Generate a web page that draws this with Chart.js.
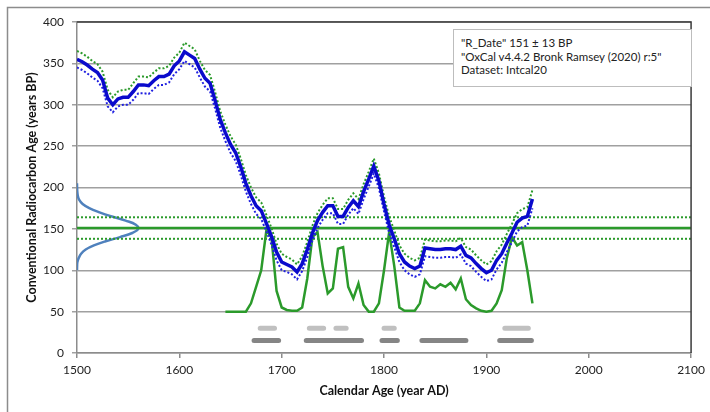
<!DOCTYPE html>
<html lang="en">
  <head>
    <meta charset="UTF-8">
    <title>Radiocarbon calibration</title>
    <script src="https://cdn.jsdelivr.net/npm/chart.js"></script>
    <style>
      body{margin: 0; background: #fff;}
      #wrap{position: relative; width: 710px; height: 412px;}
      #info{position: absolute; left: 453px; top: 29px; width: 223px; height: 44px; padding: 6px 7px;
        border: 1px solid #bdbdbd; background: #fff; color: #222;
        font: 11.5px Lato, sans-serif; line-height: 13.7px;}
    </style>
    <script>
      // calibration curve (IntCal20), 5-year steps
      const calYears = [1500,1505,1510,1515,1520,1525,1530,1535,1540,1545,1550,1555,1560,1565,1570,1575,1580,1585,1590,1595,
        1600,1605,1610,1615,1620,1625,1630,1635,1640,1645,1650,1655,1660,1665,1670,1675,1680,1685,1690,1695,
        1700,1705,1710,1715,1720,1725,1730,1735,1740,1745,1750,1755,1760,1765,1770,1775,1780,1785,1790,1795,
        1800,1805,1810,1815,1820,1825,1830,1835,1840,1845,1850,1855,1860,1865,1870,1875,1880,1885,1890,1895,
        1900,1905,1910,1915,1920,1925,1930,1935,1940,1945];
      const curveBP = [355,352,348,343,339,330,308,300,307,309,309,316,324,324,323,329,334,334,337,347,
        353,364,360,356,343,332,326,305,282,266,252,242,225,205,190,178,172,157,141,122,
        110,107,104,98,108,125,145,160,170,178,178,165,165,176,184,177,195,210,226,208,
        180,155,138,120,110,105,102,105,127,126,125,125,126,126,125,129,118,115,108,102,
        97,100,112,120,133,145,158,163,165,186];
      const curveSigma = [10,10,10,10,10,10,10,9,9,9,9,10,10,10,10,10,10,10,10,10,
        10,11,11,11,10,10,10,10,10,10,10,10,10,10,10,10,10,10,10,10,
        10,9,9,9,9,9,9,9,9,9,9,9,9,9,9,9,9,9,9,9,
        9,10,10,10,10,10,10,10,10,10,10,10,10,10,10,10,10,10,10,10,
        10,11,11,11,11,11,11,11,11,11];

      // calibrated probability (plotted on the BP scale, baseline 50)
      const probYears = [1645,1650,1655,1660,1665,1670,1675,1680,1685,1690,1695,1700,1705,1710,1715,1720,1725,1730,1735,1740,
        1745,1750,1755,1760,1765,1770,1775,1780,1785,1790,1795,1800,1805,1810,1815,1820,1825,1830,1835,1840,
        1845,1850,1855,1860,1865,1870,1875,1880,1885,1890,1895,1900,1905,1910,1915,1920,1925,1930,1935,1940,1945];
      const probValues = [50,50,50,50,50,60,80,100,148,140,75,55,52,51,51,55,90,140,146,105,
        72,78,126,128,80,66,84,58,50,50,60,100,146,105,55,51,51,51,60,88,
        80,78,83,80,85,77,90,65,58,54,51,50,51,60,76,115,140,130,134,100,60];

      // measured date
      const dateBP = 151;
      const dateErr = 13;
      const gaussBP = [100,105,110,115,120,125,130,135,140,145,150,155,160,165,170,175,180,185,190,195,200,205];
      const gaussWidth = [0,0.1,0.4,1.8,4,8.5,16.5,28,42,54,59.8,57.5,47.5,34,22,12,5.5,2.2,0.8,0.3,0.1,0];

      // 68.2% / 95.4% ranges
      const range1 = [[1679,1693],[1727,1741],[1753,1763],[1800,1810],[1918,1941]];
      const range2 = [[1673,1697],[1724,1778],[1798,1813],[1837,1880],[1913,1944]];
      const range1Y = 30;
      const range2Y = 15;

      const xMin = 1500, xMax = 2100, xStep = 100;
      const yMin = 0, yMax = 400, yStep = 50;
    </script>
  </head>
  <body>
    <div id="wrap">
      <canvas id="myChart" width="710" height="412"></canvas>
      <div id="info">"R_Date" 151 ± 13 BP<br>"OxCal v4.4.2 Bronk Ramsey (2020) r:5"<br>Dataset: Intcal20</div>
    </div>
    <script>
      const FONT = 'Lato, sans-serif';
      const GREEN = '#2b9a2b';

      function pts(xs, ys){
        return xs.map(function(x, i){ return {x: x, y: ys[i]}; });
      }
      function rangePts(list, y){
        let out = [];
        list.forEach(function(r){
          out.push({x: r[0], y: y}, {x: r[1], y: y}, {x: r[1] + 1, y: null});
        });
        return out;
      }
      function hline(v){
        return [{x: xMin, y: v}, {x: xMax, y: v}];
      }

      const upper = calYears.map(function(x, i){ return {x: x, y: curveBP[i] + curveSigma[i]}; });
      const lower = calYears.map(function(x, i){ return {x: x, y: curveBP[i] - curveSigma[i]}; });
      const gauss = gaussBP.map(function(v, i){ return {x: xMin + gaussWidth[i], y: v}; });

      const frame = {
        id: 'frame',
        beforeDraw(chart){
          const c = chart.ctx;
          c.save();
          c.strokeStyle = '#8c8c8c';
          c.lineWidth = 1.5;
          c.beginPath();
          c.moveTo(7.5, 412); c.lineTo(7.5, 7.5); c.lineTo(710, 7.5);
          c.stroke();
          c.restore();
        },
        afterDatasetsDraw(chart){
          const a = chart.chartArea, c = chart.ctx;
          c.save();
          c.strokeStyle = '#3a3a3a';
          c.lineWidth = 1.5;
          c.beginPath();
          c.moveTo(a.left, a.top); c.lineTo(a.right, a.top); c.lineTo(a.right, a.bottom);
          c.stroke();
          c.restore();
        }
      };

      new Chart(document.getElementById('myChart'), {
        type: 'line',
        data: {
          datasets: [
            {data: pts(calYears, curveBP), borderColor: '#0a0acc', borderWidth: 3.5},
            {data: lower, borderColor: '#2020e0', borderWidth: 2, borderDash: [2, 2]},
            {data: upper, borderColor: GREEN, borderWidth: 2, borderDash: [2, 2]},
            {data: pts(probYears, probValues), borderColor: GREEN, borderWidth: 2.5},
            {data: hline(dateBP), borderColor: GREEN, borderWidth: 2.5},
            {data: hline(dateBP + dateErr), borderColor: GREEN, borderWidth: 2, borderDash: [2, 2]},
            {data: hline(dateBP - dateErr), borderColor: GREEN, borderWidth: 2, borderDash: [2, 2]},
            {data: gauss, borderColor: '#4f81bd', borderWidth: 2.5, tension: 0.4},
            {data: rangePts(range1, range1Y), borderColor: '#c0c0c0', borderWidth: 5, borderCapStyle: 'round', spanGaps: false},
            {data: rangePts(range2, range2Y), borderColor: '#858585', borderWidth: 5, borderCapStyle: 'round', spanGaps: false}
          ]
        },
        options: {
          responsive: false,
          animation: false,
          devicePixelRatio: 1,
          elements: {point: {radius: 0}, line: {tension: 0, fill: false}},
          layout: {padding: {left: 0, top: 22, right: 16, bottom: 0}},
          plugins: {legend: {display: false}, tooltip: {enabled: false}},
          scales: {
            x: {
              type: 'linear', min: xMin, max: xMax,
              ticks: {stepSize: xStep, padding: 5, color: '#222', font: {family: FONT, size: 12},
                callback: function(v){ return String(v); }},
              grid: {drawOnChartArea: false, drawTicks: true, tickLength: 5, color: '#8c8c8c', lineWidth: 1.5},
              border: {color: '#8c8c8c', width: 1.5},
              title: {display: true, text: 'Calendar Age (year AD)', color: '#111', padding: {top: 0, bottom: 14},
                font: {family: FONT, size: 12.5, weight: 'bold'}},
              afterFit(s){ s.height = 59; }
            },
            y: {
              min: yMin, max: yMax,
              ticks: {stepSize: yStep, padding: 8, color: '#222', font: {family: FONT, size: 12}},
              grid: {color: '#a0a0a0', lineWidth: 1.5, tickLength: 5},
              border: {color: '#8c8c8c', width: 1.5},
              title: {display: true, text: 'Conventional Radiocarbon Age (years BP)', color: '#111', padding: {top: 24, bottom: 0},
                font: {family: FONT, size: 12.5, weight: 'bold'}},
              afterFit(s){ s.width = 77; }
            }
          }
        },
        plugins: [frame]
      });
    </script>
  </body>
</html>
